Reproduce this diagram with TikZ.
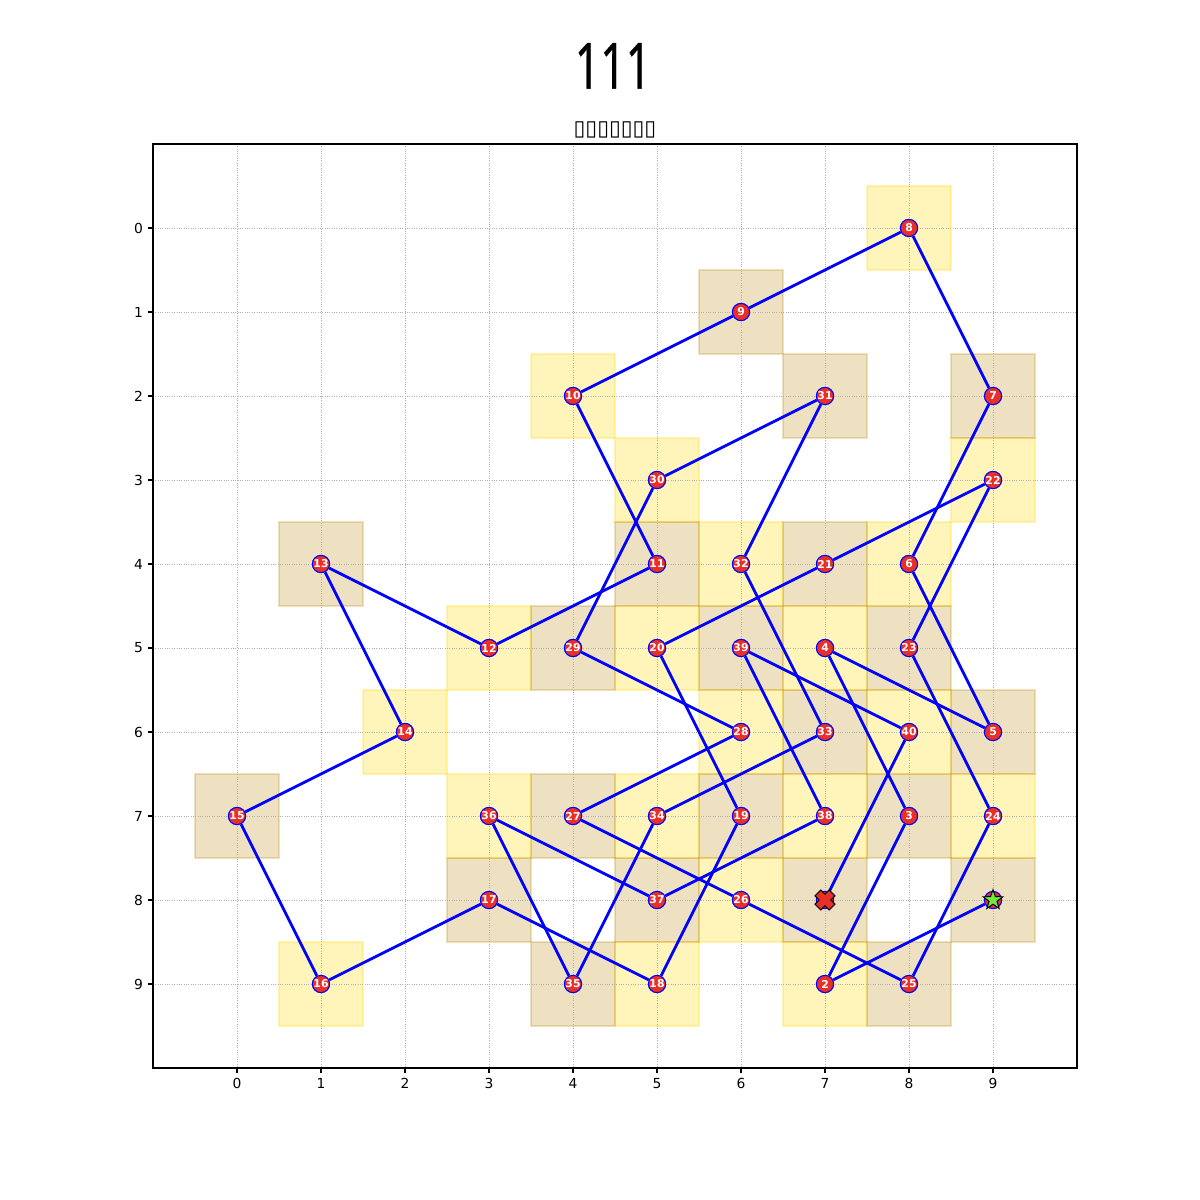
\documentclass[tikz,border=0pt]{standalone}
\usepackage{fontspec}
\setmainfont{DejaVu Sans}
\newfontfamily\titlefont[FakeBold=0.6]{Noto Sans}
\usetikzlibrary{shapes.geometric}
\definecolor{sqgold}{RGB}{255,215,0}
\definecolor{sqdark}{RGB}{184,134,11}
\definecolor{nodered}{RGB}{232,48,40}
\definecolor{gridgray}{RGB}{176,176,176}
\definecolor{stargreen}{RGB}{110,235,60}
\pgfdeclarelayer{bg}
\pgfdeclarelayer{mid}
\pgfsetlayers{bg,mid,main}
\begin{document}
\begin{tikzpicture}[x=60.48bp, y=-60.48bp,
  sqlight/.style={fill=sqgold, draw=sqgold, opacity=0.27, line width=0.8pt},
  sqdarkst/.style={fill=sqdark, draw=sqdark, opacity=0.25, line width=0.8pt},
  gridline/.style={gridgray, line width=0.5pt, dash pattern=on 0.6pt off 1.1pt},
  route/.style={blue, line width=2pt},
  frame/.style={black, line width=0.8pt},
  knight/.style={circle, fill=nodered, draw=blue, line width=0.8pt, minimum size=12.5pt, inner sep=0pt, text=white, font=\fontsize{7.8}{7.8}\selectfont\bfseries},
  ticklabel/.style={inner sep=0pt, font=\fontsize{10}{12}\selectfont},
  xmark/.style={fill=nodered, draw=black, line width=0.7pt},
  startstar/.style={star, star points=5, star point ratio=2.5, fill=stargreen, draw=black, line width=0.7pt, minimum size=15pt, inner sep=0pt}
]
\useasboundingbox (-2.82143,-2.71429) rectangle (11.46429,11.57143);

% title and subtitle
\node (title) at (4.476,-1.93) {\titlefont\scalebox{0.7}[1]{\fontsize{46}{50}\selectfont 111}};
\node (subtitle) at (4.5,-1.167) {\fontsize{15.5}{17}\selectfont ▯▯▯▯▯▯▯};

\begin{pgfonlayer}{bg}
% board squares
\foreach \c/\r in {8/0,4/2,5/3,9/3,6/4,8/4,3/5,5/5,7/5,2/6,6/6,8/6,3/7,5/7,7/7,9/7,6/8,1/9,5/9,7/9}
  \draw[sqlight] (\c-0.5,\r-0.5) rectangle (\c+0.5,\r+0.5);
\foreach \c/\r in {6/1,7/2,9/2,1/4,5/4,7/4,4/5,6/5,8/5,7/6,9/6,0/7,4/7,6/7,8/7,3/8,5/8,7/8,9/8,4/9,8/9}
  \draw[sqdarkst] (\c-0.5,\r-0.5) rectangle (\c+0.5,\r+0.5);
% grid
\foreach \k in {0,...,9} {
  \draw[gridline] (\k,-1) -- (\k,10);
  \draw[gridline] (-1,\k) -- (10,\k);
}
% frame and ticks
\draw[frame] (-1,-1) rectangle (10,10);
\foreach \k in {0,...,9} {
  \draw[frame] (\k,10) -- ++(0,-3.5pt);
  \draw[frame] (-1,\k) -- ++(-3.5pt,0);
  \node[ticklabel, anchor=north, yshift=-7pt] (xl\k) at (\k,10) {\k};
  \node[ticklabel, anchor=east, xshift=-7pt] (yl\k) at (-1,\k) {\k};
}
\end{pgfonlayer}

% tour nodes
\node[knight] (n1) at (9,8) {};
\foreach \i/\c/\r in {2/7/9,3/8/7,4/7/5,5/9/6,6/8/4,7/9/2,8/8/0,9/6/1,10/4/2,
  11/5/4,12/3/5,13/1/4,14/2/6,15/0/7,16/1/9,17/3/8,18/5/9,19/6/7,20/5/5,
  21/7/4,22/9/3,23/8/5,24/9/7,25/8/9,26/6/8,27/4/7,28/6/6,29/4/5,30/5/3,
  31/7/2,32/6/4,33/7/6,34/5/7,35/4/9,36/3/7,37/5/8,38/7/7,39/6/5,40/8/6}
  \node[knight] (n\i) at (\c,\r) {\i};
\node[knight] (n41) at (7,8) {};

% route
\begin{pgfonlayer}{mid}
\foreach \a [remember=\a as \prev (initially 1)] in {2,...,41}
  \draw[route] (n\prev) -- (n\a);
\end{pgfonlayer}

% start and end markers
\node[startstar] (startmark) at (n1) {};
\draw[xmark, shift={(n41.center)}, rotate=45]
  (3pt,3pt) -- (3pt,7.2pt) -- (-3pt,7.2pt) -- (-3pt,3pt) -- (-7.2pt,3pt) -- (-7.2pt,-3pt)
  -- (-3pt,-3pt) -- (-3pt,-7.2pt) -- (3pt,-7.2pt) -- (3pt,-3pt) -- (7.2pt,-3pt) -- (7.2pt,3pt) -- cycle;
\end{tikzpicture}
\end{document}
